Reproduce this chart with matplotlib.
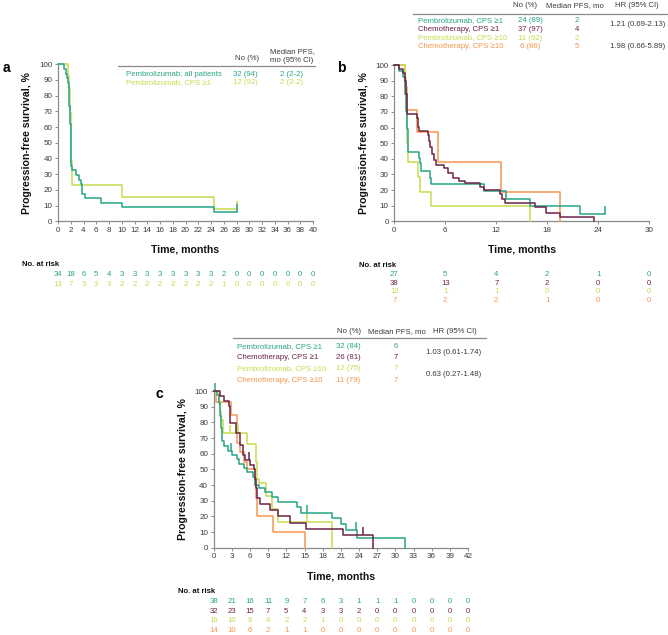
import matplotlib
matplotlib.use("Agg")
import matplotlib.pyplot as plt
from matplotlib.lines import Line2D
from matplotlib.transforms import blended_transform_factory

plt.rcParams["font.family"] = ["Liberation Sans", "DejaVu Sans"]

TEAL = "#27a586"
MAROON = "#6d2349"
LIME = "#c8da4e"
ORANGE = "#f7964d"
GREY = "#8a8a8a"
TXT = "#3a3a3a"

W, H = 668, 635
FS = 5.6  # small text size

# ---------------- panel a data ----------------
a_all_t = [0, 1.0, 1.2, 1.4, 1.6, 1.7, 1.8, 1.9, 2.0, 2.05, 2.1, 2.2, 2.9, 3.3, 3.55, 3.8, 4.2, 6.8, 10.0, 24.5, 28.0]
a_all_s = [100, 97.1, 94.1, 91.2, 88.2, 82.4, 73.5, 61.8, 50.0, 41.2, 35.3, 32.4, 29.4, 26.5, 23.5, 17.6, 14.7, 11.8, 8.8, 5.9, 5.9]
a_all_cens_t = [28.0]
a_all_cens_s = [5.9]

a_cps1_t = [0, 1.5, 1.7, 1.9, 2.0, 2.1, 2.2, 10.0, 24.5, 28.0]
a_cps1_s = [100, 92.3, 84.6, 69.2, 53.8, 38.5, 23.1, 15.4, 7.7, 7.7]
a_cps1_cens_t = [28.0]
a_cps1_cens_s = [7.7]

a_risk_times = list(range(0, 41, 2))
a_risk_all = [34, 18, 6, 5, 4, 3, 3, 3, 3, 3, 3, 3, 3, 2, 0, 0, 0, 0, 0, 0, 0]
a_risk_cps1 = [13, 7, 3, 3, 3, 2, 2, 2, 2, 2, 2, 2, 2, 1, 0, 0, 0, 0, 0, 0, 0]

a_labels = ["Pembrolizumab, all patients", "Pembrolizumab, CPS \u22651"]
a_n = ["32 (94)", "12 (92)"]
a_median = ["2 (2-2)", "2 (2-2)"]

# ---------------- panel b data ----------------
b_pem1_t = [0, 0.6, 1.0, 1.3, 1.4, 1.5, 1.6, 1.65, 2.9, 3.0, 3.1, 4.2, 4.3, 10.5, 13.2, 16.0, 21.9, 24.8]
b_pem1_s = [100, 96.3, 92.6, 81.5, 70.4, 59.3, 48.1, 44.4, 40.7, 37.0, 32.4, 27.8, 24.1, 19.3, 14.5, 9.7, 4.8, 4.8]
b_pem1_cens_t = [24.8]
b_pem1_cens_s = [4.8]

b_che1_t = [0, 0.5, 1.0, 1.3, 1.4, 1.5, 1.55, 2.7, 2.8, 2.9, 4.0, 4.1, 4.25, 4.45, 4.7, 4.95, 5.8, 6.3, 6.9, 7.6, 8.3,
            10.1, 10.6, 12.4, 12.7, 13.0, 16.5, 17.9, 19.5, 23.5]
b_che1_s = [100, 97.4, 94.7, 89.5, 81.6, 73.7, 68.4, 65.8, 60.5, 57.9, 55.2, 51.6, 47.3, 43.0, 39.2, 36.0, 33.9, 30.7,
            28.0, 26.0, 24.7, 22.0, 19.8, 17.3, 14.0, 11.5, 9.4, 5.5, 2.9, 0]

b_pem10_t = [0, 1.25, 1.35, 1.45, 1.55, 1.6, 1.65, 2.8, 3.0, 4.3, 16.0]
b_pem10_s = [100, 91.7, 83.3, 66.7, 50.0, 41.7, 38.1, 28.6, 19.0, 9.5, 0]

b_che10_t = [0, 1.25, 1.5, 2.7, 5.1, 12.6, 19.5]
b_che10_s = [100, 85.7, 71.4, 57.1, 38.1, 19.0, 0]

b_risk_times = [0, 6, 12, 18, 24, 30]
b_risk_pem1 = [27, 5, 4, 2, 1, 0]
b_risk_che1 = [38, 13, 7, 2, 0, 0]
b_risk_pem10 = [12, 1, 1, 0, 0, 0]
b_risk_che10 = [7, 2, 2, 1, 0, 0]

bc_labels = ["Pembrolizumab, CPS \u22651", "Chemotherapy, CPS \u22651",
             "Pembrolizumab, CPS \u226510", "Chemotherapy, CPS \u226510"]
b_n = ["24 (89)", "37 (97)", "11 (92)", "6 (86)"]
b_median = ["2", "4", "2", "5"]
b_hr = ["1.21 (0.69-2.13)", "1.98 (0.66-5.89)"]

# ---------------- panel c data ----------------
c_pem1_t = [0, 0.5, 0.8, 1.0, 1.2, 1.4, 1.7, 2.3, 3.0, 3.8, 4.2, 5.0, 5.5, 6.5, 6.8, 7.4, 8.5, 9.6, 10.7, 13.7,
            14.4, 19.5, 21.0, 21.8, 23.7, 31.6]
c_pem1_s = [100, 97.4, 92.1, 84.2, 76.3, 68.4, 64.6, 61.9, 59.1, 56.4, 53.6, 50.9, 48.1, 45.3, 40.0, 37.9, 35.5,
            32.6, 29.4, 25.8, 22.3, 19.0, 15.1, 11.3, 6.0, 0]
c_pem1_cens_t = [0.2, 2.8, 15.4, 23.5]
c_pem1_cens_s = [100, 61.9, 22.3, 11.3]

c_che1_t = [0, 1.0, 1.7, 2.5, 2.75, 3.7, 4.3, 4.9, 5.1, 6.0, 6.6, 6.9, 7.0, 7.1, 7.6, 9.3, 10.7, 12.6, 15.3, 21.4, 26.3]
c_che1_s = [100, 96.9, 93.8, 90.6, 79.4, 73.0, 65.5, 59.4, 56.0, 53.0, 50.0, 44.0, 38.0, 31.6, 28.0, 24.0, 20.0,
            16.0, 12.0, 8.0, 0]
c_che1_cens_t = [5.8, 24.6]
c_che1_cens_s = [56.0, 8.0]

c_pem10_t = [0, 0.8, 1.0, 1.2, 1.5, 5.5, 7.0, 7.2, 7.4, 8.7, 9.7, 10.7, 19.5]
c_pem10_s = [100, 93.8, 87.5, 81.3, 73.3, 65.9, 55.0, 44.0, 41.0, 33.0, 24.4, 16.3, 0]
c_pem10_cens_t = [2.7, 4.0, 15.4]
c_pem10_cens_s = [73.3, 73.3, 16.3]

c_che10_t = [0, 0.3, 2.8, 3.8, 4.3, 5.0, 5.5, 6.8, 7.0, 7.2, 9.85, 15.1]
c_che10_s = [100, 92.9, 84.4, 66.6, 61.0, 55.0, 50.4, 40.0, 31.5, 20.2, 9.8, 0]

c_risk_times = list(range(0, 43, 3))
c_risk_pem1 = [38, 21, 16, 11, 9, 7, 6, 3, 1, 1, 1, 0, 0, 0, 0]
c_risk_che1 = [32, 23, 15, 7, 5, 4, 3, 3, 2, 0, 0, 0, 0, 0, 0]
c_risk_pem10 = [16, 10, 8, 4, 2, 2, 1, 0, 0, 0, 0, 0, 0, 0, 0]
c_risk_che10 = [14, 10, 6, 2, 1, 1, 0, 0, 0, 0, 0, 0, 0, 0, 0]

c_n = ["32 (84)", "26 (81)", "12 (75)", "11 (79)"]
c_median = ["6", "7", "7", "7"]
c_hr = ["1.03 (0.61-1.74)", "0.63 (0.27-1.48)"]

TICK = [(0, 0), (0, 1)]  # upward censor tick


def fx(px):
    return px / W


def fy(py):
    return 1 - py / H


def make_axes(fig, left, right, top, bottom):
    return fig.add_axes([fx(left), fy(bottom), (right - left) / W, (bottom - top) / H])


def style_axes(ax, xmax, xstep):
    ax.set_xlim(0, xmax)
    ax.set_ylim(0, 100)
    ax.set_xticks(range(0, xmax + 1, xstep))
    ax.set_yticks(range(0, 101, 10))
    for side in ("top", "right"):
        ax.spines[side].set_visible(False)
    for side in ("left", "bottom"):
        ax.spines[side].set_color(GREY)
        ax.spines[side].set_linewidth(0.9)
    ax.tick_params(length=2.5, width=0.7, color=GREY, labelsize=5.8, labelcolor=TXT, pad=1.5)
    ax.set_xlabel("Time, months", fontsize=7.6, fontweight="bold", color="#111111")
    ax.set_ylabel("Progression-free survival, %", fontsize=7.6, fontweight="bold", color="#111111")
    ax.xaxis.set_label_coords(0.5, -0.15)
    ax.yaxis.set_label_coords(-0.1, 0.5)
    ax.patch.set_alpha(0)


def km(ax, t, s, color, ct=None, cs=None):
    ax.step(t, s, where="post", color=color, lw=1.1, clip_on=False, zorder=3)
    if ct:
        ax.plot(ct, cs, ls="none", marker=TICK, ms=11, mew=1.1, mec=color, color=color, clip_on=False, zorder=3)


def risk_rows(fig, ax, times, rows, colors, title_x, title_y, row_ys):
    fig.text(fx(title_x), fy(title_y), "No. at risk", fontsize=FS, fontweight="bold", color="#111111",
             ha="left", va="center")
    trans = blended_transform_factory(ax.transData, fig.transFigure)
    for vals, col, ry in zip(rows, colors, row_ys):
        for t, v in zip(times, vals):
            ax.text(t, fy(ry), str(v), transform=trans, ha="center", va="center", fontsize=FS, color=col)


def ftext(fig, x, y, s, color=TXT, ha="left", **kw):
    fig.text(fx(x), fy(y), s, ha=ha, va="center", fontsize=FS, color=color, **kw)


def hline(fig, x0, x1, y):
    fig.add_artist(Line2D([fx(x0), fx(x1)], [fy(y), fy(y)], color=GREY, lw=0.9))


fig = plt.figure(figsize=(W / 100, H / 100), dpi=100)

# ---------------- panel a ----------------
ax_a = make_axes(fig, 58, 313, 64.3, 221.3)
style_axes(ax_a, 40, 2)
km(ax_a, a_cps1_t, a_cps1_s, LIME, a_cps1_cens_t, a_cps1_cens_s)
km(ax_a, a_all_t, a_all_s, TEAL, a_all_cens_t, a_all_cens_s)
risk_rows(fig, ax_a, a_risk_times, [a_risk_all, a_risk_cps1], [TEAL, LIME], 22, 265, [275, 284.7])
fig.text(fx(3), fy(68.5), "a", fontsize=10, fontweight="bold", ha="left", va="center")

hline(fig, 118, 315, 66)
ftext(fig, 247, 58, "No (%)", ha="center")
fig.text(fx(292), fy(63.5), "Median PFS,\nmo (95% CI)", fontsize=FS, color=TXT, ha="center", va="bottom",
         linespacing=1.2)
for i, col in enumerate([TEAL, LIME]):
    y = [74, 82.7][i]
    ftext(fig, 126, y, a_labels[i], color=col)
    ftext(fig, 245, y, a_n[i], color=col, ha="center")
    ftext(fig, 292, y, a_median[i], color=col, ha="center")

# ---------------- panel b ----------------
ax_b = make_axes(fig, 394.3, 649.3, 65, 221.3)
style_axes(ax_b, 30, 6)
km(ax_b, b_che10_t, b_che10_s, ORANGE)
km(ax_b, b_pem10_t, b_pem10_s, LIME)
km(ax_b, b_pem1_t, b_pem1_s, TEAL, b_pem1_cens_t, b_pem1_cens_s)
km(ax_b, b_che1_t, b_che1_s, MAROON)
risk_rows(fig, ax_b, b_risk_times, [b_risk_pem1, b_risk_che1, b_risk_pem10, b_risk_che10],
          [TEAL, MAROON, LIME, ORANGE], 359, 265.7, [274.5, 283.2, 291.9, 300.6])
fig.text(fx(337), fy(67.5), "b", fontsize=10, fontweight="bold", ha="left", va="center")

hline(fig, 413, 667, 14)
ftext(fig, 525, 5.5, "No (%)", ha="center")
ftext(fig, 575, 5.5, "Median PFS, mo", ha="center")
ftext(fig, 637, 5.5, "HR (95% CI)", ha="center")
b_cols = [TEAL, MAROON, LIME, ORANGE]
for i, col in enumerate(b_cols):
    y = [20.7, 29.3, 38.0, 46.6][i]
    ftext(fig, 418, y, bc_labels[i], color=col)
    ftext(fig, 530, y, b_n[i], color=col, ha="center")
    ftext(fig, 577, y, b_median[i], color=col, ha="center")
ftext(fig, 638, 25, b_hr[0], ha="center")
ftext(fig, 638, 46, b_hr[1], ha="center")

# ---------------- panel c ----------------
ax_c = make_axes(fig, 213.7, 468, 391, 547.7)
style_axes(ax_c, 42, 3)
km(ax_c, c_che10_t, c_che10_s, ORANGE)
km(ax_c, c_pem10_t, c_pem10_s, LIME, c_pem10_cens_t, c_pem10_cens_s)
km(ax_c, c_pem1_t, c_pem1_s, TEAL, c_pem1_cens_t, c_pem1_cens_s)
km(ax_c, c_che1_t, c_che1_s, MAROON, c_che1_cens_t, c_che1_cens_s)
risk_rows(fig, ax_c, c_risk_times, [c_risk_pem1, c_risk_che1, c_risk_pem10, c_risk_che10],
          [TEAL, MAROON, LIME, ORANGE], 178, 591.7, [601.7, 611.2, 620.7, 630.2])
fig.text(fx(156), fy(393.5), "c", fontsize=10, fontweight="bold", ha="left", va="center")

hline(fig, 233, 486, 338)
ftext(fig, 349, 331.7, "No (%)", ha="center")
ftext(fig, 397, 331.7, "Median PFS, mo", ha="center")
ftext(fig, 455, 331.7, "HR (95% CI)", ha="center")
for i, col in enumerate(b_cols):
    y = [346.5, 357.8, 369.0, 380.5][i]
    ftext(fig, 237, y, bc_labels[i], color=col)
    ftext(fig, 348, y, c_n[i], color=col, ha="center")
    ftext(fig, 396, y, c_median[i], color=col, ha="center")
ftext(fig, 454, 352, c_hr[0], ha="center")
ftext(fig, 454, 374, c_hr[1], ha="center")

fig.savefig("out.png", dpi=100)
